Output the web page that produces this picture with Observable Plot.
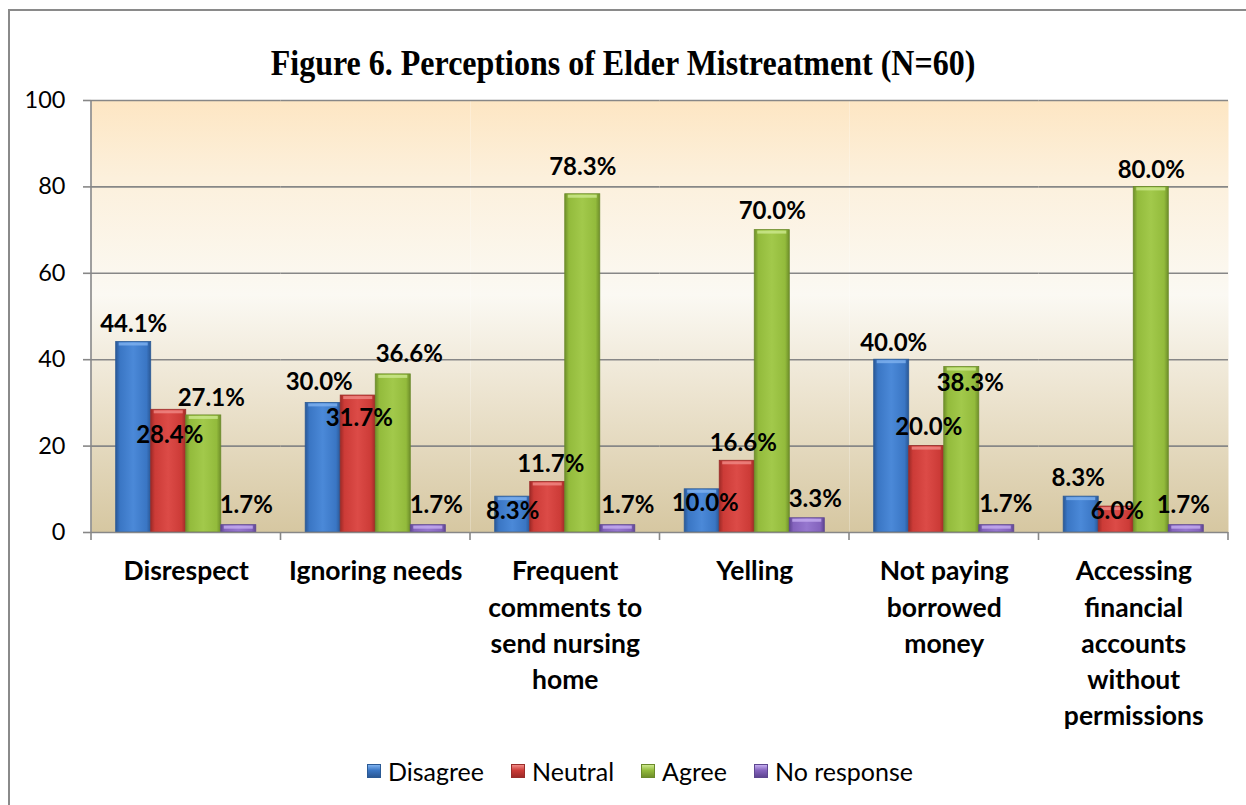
<!DOCTYPE html>
<html><head><meta charset="utf-8">
<script src="https://cdn.jsdelivr.net/npm/d3@7"></script>
<script src="https://cdn.jsdelivr.net/npm/@observablehq/plot@0.6"></script>
<style>
body{margin:0;background:#fff;}
#wrap{position:relative;width:1246px;height:805px;overflow:hidden;background:#fff;font-family:Lato, sans-serif;}
#title{position:absolute;left:0;width:1246px;top:43px;text-align:center;font-family:"Liberation Serif","Times New Roman",serif;font-weight:bold;font-size:32px;line-height:40px;color:#000;transform:scaleY(1.12);transform-origin:50% 50%;}
#chart{position:absolute;left:0;top:0;}
.bl{position:absolute;left:8px;top:9px;width:2px;height:800px;background:#8a8a8a}
.bt{position:absolute;left:8px;top:9px;width:1240px;height:2px;background:#8a8a8a}
#legend{position:absolute;top:755px;left:367px;display:flex;align-items:center;font-size:25px;line-height:32px;font-family:Lato,sans-serif;color:#000;}
.item{display:flex;align-items:center;margin-right:27px}
.sw{width:14px;height:14px;margin-right:7px;box-sizing:border-box}
</style>
</head><body>
<div id="wrap">
  <div id="chart"></div>
  <div class="bl"></div><div class="bt"></div>
  <div id="title">Figure 6. Perceptions of Elder Mistreatment (N=60)</div>
  <div id="legend"></div>
</div>
<script>
// ---- data ----
const categories = ["Disrespect","Ignoring needs","Frequent comments to send nursing home","Yelling","Not paying borrowed money","Accessing financial accounts without permissions"];
const categoryLines = ["Disrespect","Ignoring needs","Frequent\ncomments to\nsend nursing\nhome","Yelling","Not paying\nborrowed\nmoney","Accessing\nfinancial\naccounts\nwithout\npermissions"];
const series = ["Disagree","Neutral","Agree","No response"];
const disagree   = [44.1, 30.0,  8.3, 10.0, 40.0,  8.3];
const neutral    = [28.4, 31.7, 11.7, 16.6, 20.0,  6.0];
const agree      = [27.1, 36.6, 78.3, 70.0, 38.3, 80.0];
const noResponse = [ 1.7,  1.7,  1.7,  3.3,  1.7,  1.7];
const yTicks = [0, 20, 40, 60, 80, 100];

// label nudges (layout only), [dx, dy] in px per series per category
const labelNudge = [
  [[0,-17.5],[-4,-21],[0,15],[3,14],[2,-16.5],[-3,-18]],
  [[1,26],[1,23],[3,-17.5],[6,-17],[2,-19],[1,5]],
  [[7.5,-17],[16,-20],[0,-27],[0,-19],[8.5,16.5],[0,-16.5]],
  [[7.5,-20],[8,-20],[10,-20],[8,-19],[9,-21],[-3,-20]]
];

// styles
const barColors = [
  {dark:"#2a5896", base:"#3a76c4", light:"#4b89d8", top:"#7fb2ef", stroke:"#2b5a95"},
  {dark:"#9e2a27", base:"#cc3b37", light:"#dc4b47", top:"#f08a86", stroke:"#9a2d2a"},
  {dark:"#6f8f2a", base:"#93bb3c", light:"#a2c94b", top:"#cde88e", stroke:"#6b8a2b"},
  {dark:"#5f4592", base:"#8463bd", light:"#9677cf", top:"#c5aef0", stroke:"#5e4790"}
];

const valuesBySeries = [disagree, neutral, agree, noResponse];
const rows = [];
series.forEach((s, j) => categories.forEach((c, i) => rows.push({category: c, series: s, value: valuesBySeries[j][i], i, j})));

const gradIds = series.map((s, j) => `url(#barGrad${j})`);

const marks = [
  Plot.frame({fill: "url(#bgGrad)", stroke: "none"}),
  Plot.ruleY(yTicks.filter(d => d > 0), {stroke: "#878787", strokeWidth: 1.6}),
  Plot.barY(rows, {fx: "category", x: "series", y: "value", fill: "series", stroke: (d) => barColors[d.j].stroke, strokeWidth: 0.8}),
  Plot.tickY(rows, {fx: "category", x: "series", y: "value", stroke: (d) => barColors[d.j].top, strokeWidth: 3, dy: 2, insetLeft: 3, insetRight: 3, strokeOpacity: 0.8}),
  Plot.ruleY([0], {stroke: "#878787", strokeWidth: 1.6}),
  Plot.text(categories, {fx: d => d, text: (d) => categoryLines[categories.indexOf(d)], frameAnchor: "bottom", lineAnchor: "top", dy: 22, lineHeight: 1.37, fontSize: 26.5, fontWeight: "bold", fontFamily: "Lato", fill: "#000"})
];
rows.forEach(r => {
  const [dx, dy] = labelNudge[r.j][r.i];
  marks.push(Plot.text([r], {fx: "category", x: "series", y: "value", text: d => d.value.toFixed(1) + "%", dx, dy, fontSize: 24, fontWeight: "bold", fontFamily: "Lato", fill: "#000"}));
});

const plot = Plot.plot({
  width: 1246, height: 805,
  marginLeft: 91, marginRight: 18, marginTop: 100, marginBottom: 273,
  style: {fontFamily: "Lato", fontSize: "23.5px", color: "#000", background: "transparent", overflow: "visible"},
  fx: {domain: categories, padding: 0, round: false, axis: null, label: null},
  x: {domain: series, paddingInner: 0, paddingOuter: 0.705, round: false, axis: null, label: null},
  y: {domain: [0, 100], ticks: yTicks, tickSize: 8, tickPadding: 18, label: null},
  color: {type: "ordinal", domain: series, range: gradIds},
  marks
});

// gradients
const svg = d3.select(plot.tagName.toLowerCase() === "svg" ? plot : plot.querySelector("svg"));
const defs = svg.insert("defs", ":first-child");
const bg = defs.append("linearGradient").attr("id", "bgGrad").attr("x1", 0).attr("y1", 0).attr("x2", 0).attr("y2", 1);
[["0%", "#fde6c3"], ["18%", "#fcf0dc"], ["45%", "#fbf9f3"], ["70%", "#ebe2cd"], ["100%", "#d6c7a1"]].forEach(([o, c]) => bg.append("stop").attr("offset", o).attr("stop-color", c));
barColors.forEach((bc, j) => {
  const g = defs.append("linearGradient").attr("id", `barGrad${j}`).attr("x1", 0).attr("y1", 0).attr("x2", 1).attr("y2", 0);
  [["0%", bc.dark], ["12%", bc.base], ["50%", bc.light], ["88%", bc.base], ["100%", bc.dark]].forEach(([o, c]) => g.append("stop").attr("offset", o).attr("stop-color", c));
});

// axis styling: gray ticks
svg.selectAll("g[aria-label^='y-axis'] line, g[aria-label^='y-axis'] path").attr("stroke", "#878787").attr("stroke-width", 1.6);

// left axis line and category boundary ticks from library scales
const fx = plot.scale("fx"), y = plot.scale("y");
const y0 = y.apply(0), y1 = y.apply(100);
const first = fx.apply(categories[0]);
const bw = fx.bandwidth;
const extra = svg.append("g").attr("stroke", "#878787").attr("stroke-width", 1.6);
extra.append("line").attr("x1", first).attr("x2", first).attr("y1", y1).attr("y2", y0 + 8);
categories.forEach(c => {
  const e = fx.apply(c) + bw;
  extra.append("line").attr("x1", e).attr("x2", e).attr("y1", y0).attr("y2", y0 + 8);
});

document.getElementById("chart").appendChild(plot);

// legend
const legend = d3.select("#legend");
series.forEach((s, j) => {
  const bc = barColors[j];
  const it = legend.append("div").attr("class", "item");
  it.append("div").attr("class", "sw").style("background", `linear-gradient(to bottom, ${bc.top}, ${bc.base} 45%, ${bc.dark})`).style("border", `1px solid ${bc.stroke}`);
  it.append("span").text(s);
});
</script>
</body></html>
